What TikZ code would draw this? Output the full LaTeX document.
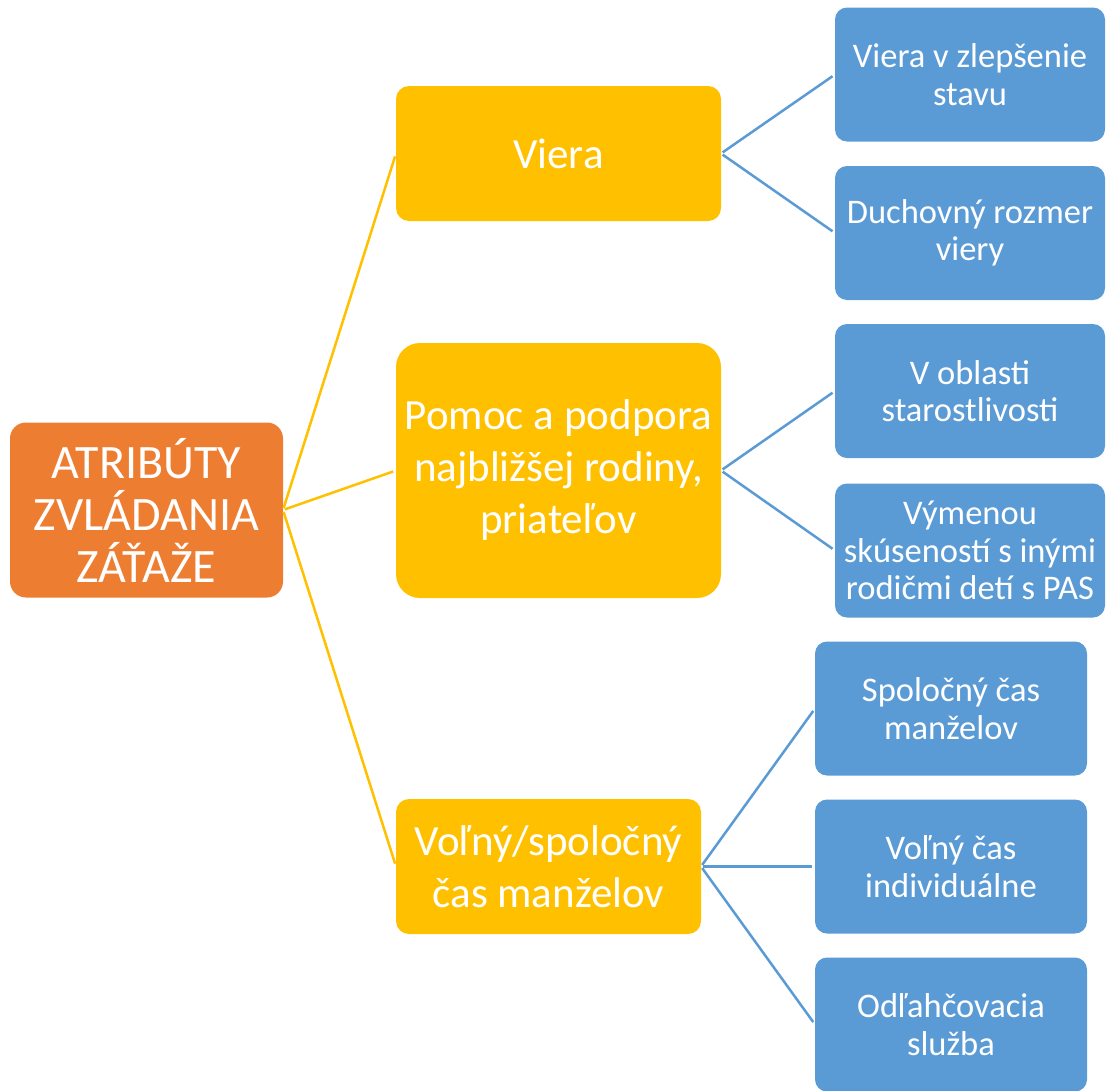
\documentclass[tikz,border=0pt]{standalone}
\usepackage{fontspec}
\setmainfont{Carlito}
\definecolor{rootc}{HTML}{ED7D31}
\definecolor{goldc}{HTML}{FFC000}
\definecolor{bluec}{HTML}{5B9BD5}
\begin{document}
\begin{tikzpicture}[x=1pt,y=-1pt,
  box/.style={rectangle, text=white, align=center, inner sep=0pt, outer sep=0pt},
  rootbox/.style={box, fill=rootc, rounded corners=16pt, minimum width=273pt, minimum height=175pt,
    font=\fontsize{48}{52}\selectfont},
  goldbox/.style={box, fill=goldc, rounded corners=13pt, minimum width=325pt, minimum height=135pt,
    font=\fontsize{43}{52}\selectfont},
  bluebox/.style={box, fill=bluec, rounded corners=12pt, minimum width=270pt, minimum height=134pt,
    font=\fontsize{34.5}{37.5}\selectfont},
  goldline/.style={draw=goldc, line width=2.5pt, shorten <=2pt, shorten >=3pt},
  blueline/.style={draw=bluec, line width=2.5pt, shorten <=2pt, shorten >=3pt}
]
\useasboundingbox (0,0) rectangle (1106,1090);
\node[rootbox] (root) at (146.5,510) {ATRIBÚTY\\ZVLÁDANIA\\ZÁŤAŽE};
\node[goldbox] (viera) at (558.5,153.5) {Viera};
\node[goldbox, minimum height=255pt, rounded corners=24pt] (pomoc) at (558.5,470.5) {Pomoc a podpora\\najbližšej rodiny,\\priateľov};
\node[goldbox, minimum width=305pt] (volny) at (548.5,866.5) {Voľný/spoločný\\čas manželov};
\node[bluebox] (b1) at (970,74.5) {Viera v zlepšenie\\stavu};
\node[bluebox] (b2) at (970,233) {Duchovný rozmer\\viery};
\node[bluebox] (b3) at (970,391) {V oblasti\\starostlivosti};
\node[bluebox] (b4) at (970,550.5) {Výmenou\\skúseností s inými\\rodičmi detí s PAS};
\node[bluebox, minimum width=272pt] (c1) at (951,708.5) {Spoločný čas\\manželov};
\node[bluebox, minimum width=272pt] (c2) at (951,866.5) {Voľný čas\\individuálne};
\node[bluebox, minimum width=272pt] (c3) at (951,1024.5) {Odľahčovacia\\služba};
\draw[goldline] (root.east) -- (viera.west);
\draw[goldline] (root.east) -- (pomoc.west);
\draw[goldline] (root.east) -- (volny.west);
\draw[blueline] (viera.east) -- (b1.west);
\draw[blueline] (viera.east) -- (b2.west);
\draw[blueline] (pomoc.east) -- (b3.west);
\draw[blueline] (pomoc.east) -- (b4.west);
\draw[blueline] (volny.east) -- (c1.west);
\draw[blueline] (volny.east) -- (c2.west);
\draw[blueline] (volny.east) -- (c3.west);
\end{tikzpicture}
\end{document}
